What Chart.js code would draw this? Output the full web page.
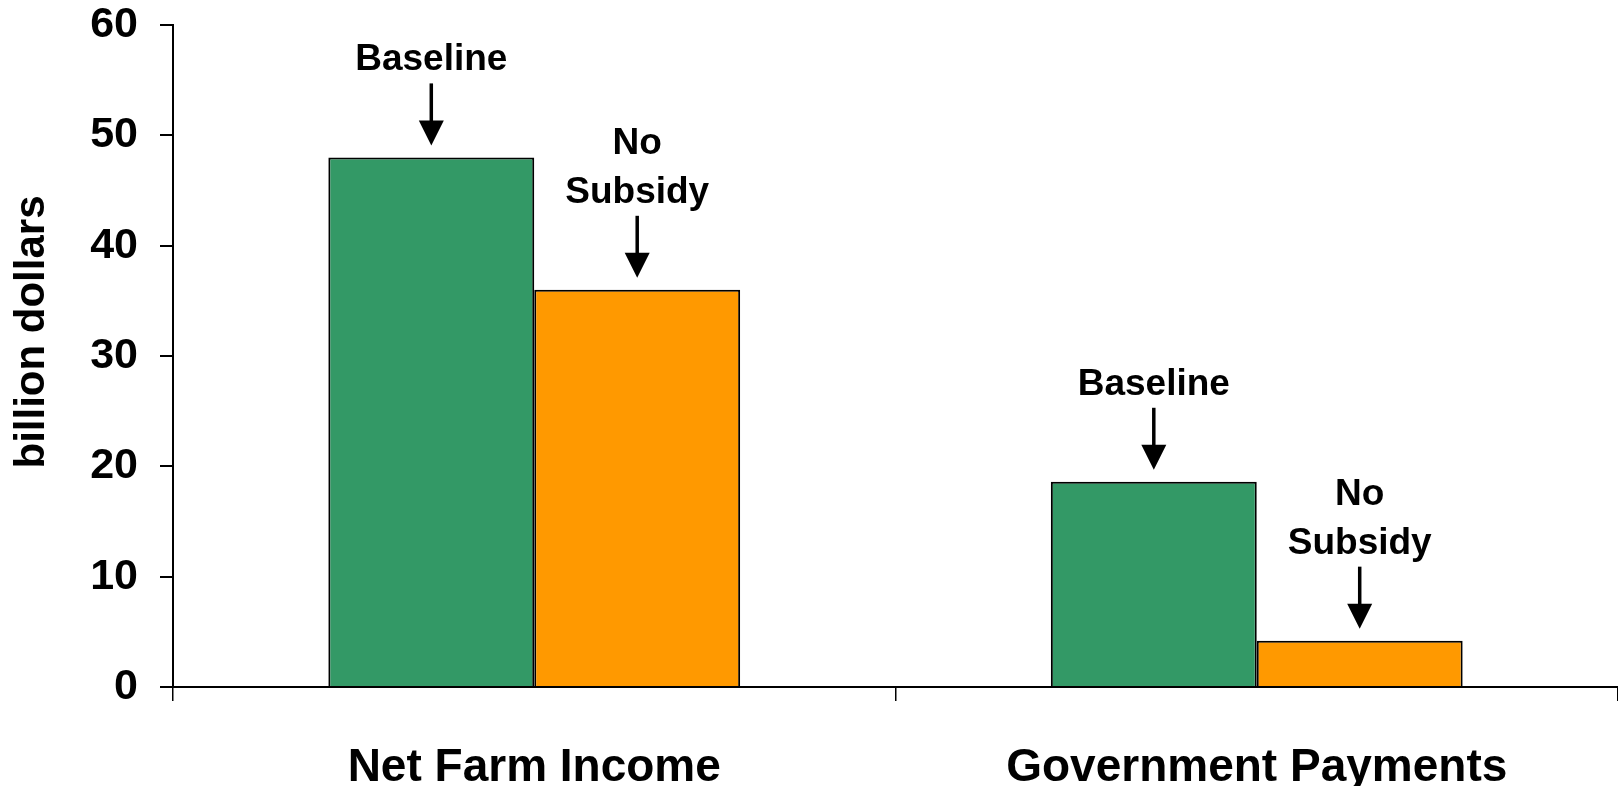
<!DOCTYPE html>
<html>
<head>
<meta charset="utf-8">
<script src="https://cdn.jsdelivr.net/npm/chart.js@4/dist/chart.umd.min.js"></script>
<style>
  html, body { margin: 0; padding: 0; background: #fff; }
  #wrap { width: 1618px; height: 786px; position: relative; }
</style>
</head>
<body>
<div id="wrap"><canvas id="farmChart"></canvas></div>
<script>
// Chart data
const categories = ['Net Farm Income', 'Government Payments'];
const baseline = [48, 18.6];
const noSubsidy = [36, 4.2];
const yTicks = [0, 10, 20, 30, 40, 50, 60];

// text shown above each series' bars
const seriesNotes = [['Baseline'], ['No', 'Subsidy']];

const FONT = '"Liberation Sans", Arial, sans-serif';

// draws the arrows + labels above the bars, and the rotated y title
const notesPlugin = {
  id: 'notes',
  afterDatasetsDraw(chart) {
    const ctx = chart.ctx;
    ctx.save();
    chart.data.datasets.forEach((ds, i) => {
      const meta = chart.getDatasetMeta(i);
      const lines = seriesNotes[i];
      meta.data.forEach(bar => {
        const x = bar.x;
        const top = bar.y;
        // arrow
        ctx.strokeStyle = '#000';
        ctx.fillStyle = '#000';
        ctx.lineWidth = 3.5;
        ctx.beginPath();
        ctx.moveTo(x, top - 74);
        ctx.lineTo(x, top - 36);
        ctx.stroke();
        ctx.beginPath();
        ctx.moveTo(x - 12.5, top - 37);
        ctx.lineTo(x + 12.5, top - 37);
        ctx.lineTo(x, top - 12);
        ctx.closePath();
        ctx.fill();
        // label
        ctx.font = 'bold 37px ' + FONT;
        ctx.textAlign = 'center';
        ctx.textBaseline = 'alphabetic';
        for (let k = 0; k < lines.length; k++) {
          const off = (lines.length - 1 - k) * 49;
          ctx.fillText(lines[k], x, top - 87 - off);
        }
      });
    });
    // y axis title
    ctx.translate(32, 332);
    ctx.rotate(-Math.PI / 2);
    ctx.font = 'bold 42px ' + FONT;
    ctx.textAlign = 'center';
    ctx.textBaseline = 'middle';
    ctx.fillText('billion dollars', 0, 0);
    ctx.restore();
  }
};

const ctx = document.getElementById('farmChart').getContext('2d');
new Chart(ctx, {
  type: 'bar',
  data: {
    labels: categories,
    datasets: [
      {
        label: 'Baseline',
        data: baseline,
        backgroundColor: '#339966',
        borderColor: '#000',
        borderWidth: 2
      },
      {
        label: 'No Subsidy',
        data: noSubsidy,
        backgroundColor: '#FF9900',
        borderColor: '#000',
        borderWidth: 2
      }
    ]
  },
  options: {
    responsive: true,
    maintainAspectRatio: false,
    animation: false,
    layout: { padding: { top: 25, right: -4, left: 0, bottom: 0 } },
    datasets: {
      bar: { barPercentage: 1, categoryPercentage: 0.57 }
    },
    scales: {
      x: {
        grid: {
          display: true,
          drawOnChartArea: false,
          offset: true,
          color: '#000',
          lineWidth: 1.5,
          tickLength: 14
        },
        border: { display: true, color: '#000', width: 2 },
        ticks: {
          color: '#000',
          padding: 40,
          font: { family: FONT, size: 46, weight: 'bold' }
        },
        afterFit(scale) {
          scale.height = 99;
          scale.paddingLeft = 0;
          scale.paddingRight = 0;
        }
      },
      y: {
        min: 0,
        max: 60,
        afterBuildTicks(scale) {
          scale.ticks = yTicks.map(v => ({ value: v }));
        },
        grid: {
          display: true,
          drawOnChartArea: false,
          color: '#000',
          lineWidth: 2,
          tickLength: 13
        },
        border: { display: true, color: '#000', width: 2 },
        ticks: {
          color: '#000',
          padding: 22,
          font: { family: FONT, size: 43, weight: 'bold' }
        },
        afterFit(scale) {
          scale.width = 173;
          scale.paddingTop = 0;
          scale.paddingBottom = 0;
        }
      }
    },
    plugins: {
      legend: { display: false },
      tooltip: { enabled: false },
      title: { display: false }
    }
  },
  plugins: [notesPlugin]
});
</script>
</body>
</html>
